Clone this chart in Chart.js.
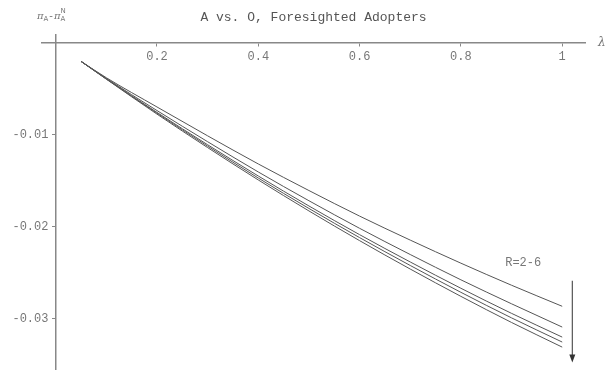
<!DOCTYPE html>
<html>
<head>
<meta charset="utf-8">
<script src="https://cdn.jsdelivr.net/npm/chart.js@4"></script>
<style>
  html, body { margin: 0; padding: 0; background: #fff; }
  #wrap { width: 607px; height: 374px; }
</style>
</head>
<body>
<div id="wrap"><canvas id="chart"></canvas></div>
<script>
// lambda values where the curves were read
const lambdas = [0.05, 0.1, 0.2, 0.3, 0.4, 0.5, 0.6, 0.7, 0.8, 0.9, 1.0];

// pi_A - pi_A^N for R = 2 ... 6
const r2 = [-0.00204, -0.00382, -0.00700, -0.01014, -0.01320, -0.01609, -0.01887, -0.02148, -0.02399, -0.02639, -0.02868];
const r3 = [-0.00204, -0.00390, -0.00739, -0.01078, -0.01407, -0.01720, -0.02020, -0.02305, -0.02580, -0.02841, -0.03094];
const r4 = [-0.00204, -0.00394, -0.00759, -0.01111, -0.01451, -0.01777, -0.02089, -0.02386, -0.02672, -0.02945, -0.03203];
const r5 = [-0.00204, -0.00396, -0.00768, -0.01126, -0.01473, -0.01804, -0.02121, -0.02424, -0.02716, -0.02994, -0.03257];
const r6 = [-0.00204, -0.00398, -0.00778, -0.01142, -0.01494, -0.01831, -0.02154, -0.02463, -0.02760, -0.03044, -0.03312];

const seriesNames = ["R=2", "R=3", "R=4", "R=5", "R=6"];
const allSeries = [r2, r3, r4, r5, r6];

const mono = "'Liberation Mono', 'DejaVu Sans Mono', monospace";

function pts(ys) {
    return lambdas.map((x, i) => ({ x: x, y: ys[i] }));
}

// axes sit inside the plot, so they should not claim any room
function noRoom(s) {
    if (s.isHorizontal()) s.height = 0; else s.width = 0;
    s.paddingTop = 0;
    s.paddingBottom = 0;
    s.paddingLeft = 0;
    s.paddingRight = 0;
}

// extra labels: axis names, annotation and arrow
const extras = {
    id: "extras",
    afterDraw(chart) {
        const ctx = chart.ctx;
        const xs = chart.scales.x, ys = chart.scales.y;
        ctx.save();
        ctx.fillStyle = "#777";
        ctx.textBaseline = "alphabetic";

        // y axis name: pi_A - pi_A^N
        let x = 37, y = 19;
        ctx.font = "italic 10px 'DejaVu Serif', serif";
        ctx.fillText("\u03c0", x, y); x += ctx.measureText("\u03c0").width;
        ctx.font = "7px 'DejaVu Sans', sans-serif";
        ctx.fillText("A", x, y + 2); x += ctx.measureText("A").width + 1;
        ctx.font = "10px 'DejaVu Sans', sans-serif";
        ctx.fillText("-", x, y); x += ctx.measureText("-").width + 1;
        ctx.font = "italic 10px 'DejaVu Serif', serif";
        ctx.fillText("\u03c0", x, y); x += ctx.measureText("\u03c0").width;
        ctx.font = "7px 'DejaVu Sans', sans-serif";
        ctx.fillText("A", x, y + 2);
        ctx.fillText("N", x, y - 6);

        // x axis name
        ctx.font = "italic 12px 'DejaVu Serif', serif";
        ctx.textBaseline = "middle";
        ctx.fillText("\u03bb", xs.right + 13, ys.getPixelForValue(0));

        // annotation
        ctx.font = "12px " + mono;
        ctx.textAlign = "center";
        ctx.fillText("R=2-6", xs.getPixelForValue(0.923), ys.getPixelForValue(-0.0239));

        // arrow
        const ax = xs.getPixelForValue(1.02);
        const ay1 = ys.getPixelForValue(-0.0259);
        const ay2 = ys.getPixelForValue(-0.0348);
        ctx.strokeStyle = "#555";
        ctx.fillStyle = "#333";
        ctx.lineWidth = 1.2;
        ctx.beginPath();
        ctx.moveTo(ax, ay1);
        ctx.lineTo(ax, ay2 - 6);
        ctx.stroke();
        ctx.beginPath();
        ctx.moveTo(ax - 3, ay2 - 8);
        ctx.lineTo(ax + 3, ay2 - 8);
        ctx.lineTo(ax, ay2);
        ctx.closePath();
        ctx.fill();
        ctx.restore();
    }
};

new Chart(document.getElementById("chart"), {
    type: "line",
    data: {
        datasets: allSeries.map((s, i) => ({
            label: seriesNames[i],
            data: pts(s),
            borderColor: "#555",
            borderWidth: 1,
            pointRadius: 0,
            fill: false,
            cubicInterpolationMode: "monotone"
        }))
    },
    options: {
        responsive: true,
        maintainAspectRatio: false,
        animation: false,
        layout: { padding: { left: 42, right: 22, top: 0, bottom: 5 } },
        plugins: {
            legend: { display: false },
            tooltip: { enabled: false },
            title: {
                display: true,
                text: "A vs. O, Foresighted Adopters",
                color: "#555",
                font: { family: mono, size: 13, weight: "normal" },
                padding: { top: 10, bottom: 9 }
            }
        },
        scales: {
            x: {
                type: "linear",
                min: -0.027,
                max: 1.045,
                position: { y: 0 },
                afterFit: noRoom,
                border: { color: "#888", width: 1.5 },
                grid: { display: true, drawOnChartArea: false, drawTicks: true, tickLength: 3, color: "#888" },
                ticks: {
                    stepSize: 0.2,
                    includeBounds: false,
                    maxRotation: 0,
                    padding: 4,
                    color: "#777",
                    font: { family: mono, size: 12 },
                    callback: (v) => (Math.abs(v) < 1e-9 ? "" : String(Math.round(v * 10) / 10))
                }
            },
            y: {
                type: "linear",
                min: -0.0355,
                max: 0.00087,
                position: { x: 0 },
                afterFit: noRoom,
                border: { color: "#888", width: 1.5 },
                grid: { display: true, drawOnChartArea: false, drawTicks: true, tickLength: 3, color: "#888" },
                ticks: {
                    stepSize: 0.01,
                    includeBounds: false,
                    padding: 4,
                    color: "#777",
                    font: { family: mono, size: 12 },
                    callback: (v) => (Math.abs(v) < 1e-9 ? "" : String(Math.round(v * 100) / 100) + " ")
                }
            }
        }
    },
    plugins: [extras]
});
</script>
</body>
</html>
